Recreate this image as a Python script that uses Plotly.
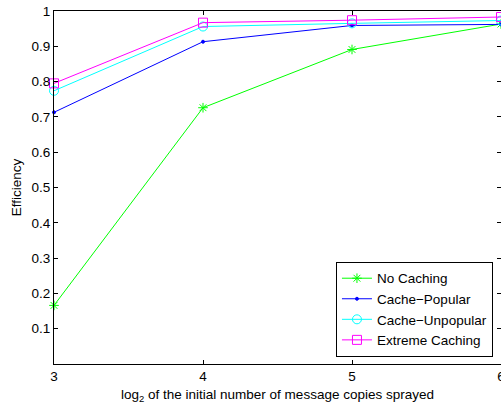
import plotly.graph_objects as go

# log2 of the initial number of message copies sprayed
copies_log2 = [3, 4, 5, 6]

# efficiency per caching strategy
no_caching = [0.166, 0.726, 0.891, 0.963]
cache_popular = [0.713, 0.913, 0.959, 0.962]
cache_unpopular = [0.774, 0.956, 0.965, 0.973]
extreme_caching = [0.795, 0.967, 0.974, 0.983]

y_ticks = [0.1, 0.2, 0.3, 0.4, 0.5, 0.6, 0.7, 0.8, 0.9, 1.0]
y_tick_text = ["0.1", "0.2", "0.3", "0.4", "0.5", "0.6", "0.7", "0.8", "0.9", "1"]
x_ticks = [3, 4, 5, 6]

FONT = "Liberation Sans, Arial, Helvetica, sans-serif"
FS = 13.5

series = [
    ("No Caching", no_caching, "#00ff00", "asterisk-open", 8),
    ("Cache\u2212Popular", cache_popular, "#0000ff", "circle", 3),
    ("Cache\u2212Unpopular", cache_unpopular, "#00ffff", "circle-open", 9),
    ("Extreme Caching", extreme_caching, "#ff00ff", "square-open", 9),
]

fig = go.Figure()
for name, vals, color, symbol, size in series:
    fig.add_trace(go.Scatter(
        x=copies_log2, y=vals, name=name, mode="lines+markers",
        line=dict(color=color, width=1),
        marker=dict(symbol=symbol, size=size, color=color,
                    line=dict(color=color, width=1)),
        cliponaxis=False,
    ))

fig.update_layout(
    width=501, height=406,
    margin=dict(l=54, r=0, t=11, b=42, autoexpand=False),
    paper_bgcolor="white", plot_bgcolor="white",
    font=dict(family=FONT, size=FS, color="black"),
    showlegend=True,
    legend=dict(
        x=0.982, y=0.02, xanchor="right", yanchor="bottom",
        bgcolor="white", bordercolor="black", borderwidth=1,
        font=dict(family=FONT, size=FS, color="black"),
        tracegroupgap=0, itemwidth=30,
    ),
    xaxis=dict(
        range=[3, 6], tickvals=x_ticks, ticks="inside", ticklen=4,
        tickcolor="black", showline=True, linecolor="black", linewidth=1,
        mirror="ticks", showgrid=False, zeroline=False, automargin=False,
        ticklabeloverflow="allow",
        title=dict(text="log<sub>2</sub> of the initial number of message copies sprayed",
                   font=dict(size=FS), standoff=6),
    ),
    yaxis=dict(
        range=[0, 1], tickvals=y_ticks, ticktext=y_tick_text,
        ticks="inside", ticklen=4, tickcolor="black",
        showline=True, linecolor="black", linewidth=1,
        mirror="ticks", showgrid=False, zeroline=False, automargin=False,
        ticklabeloverflow="allow",
        title=dict(text="Efficiency", font=dict(size=FS), standoff=6),
    ),
)

fig.write_html("out.html")
